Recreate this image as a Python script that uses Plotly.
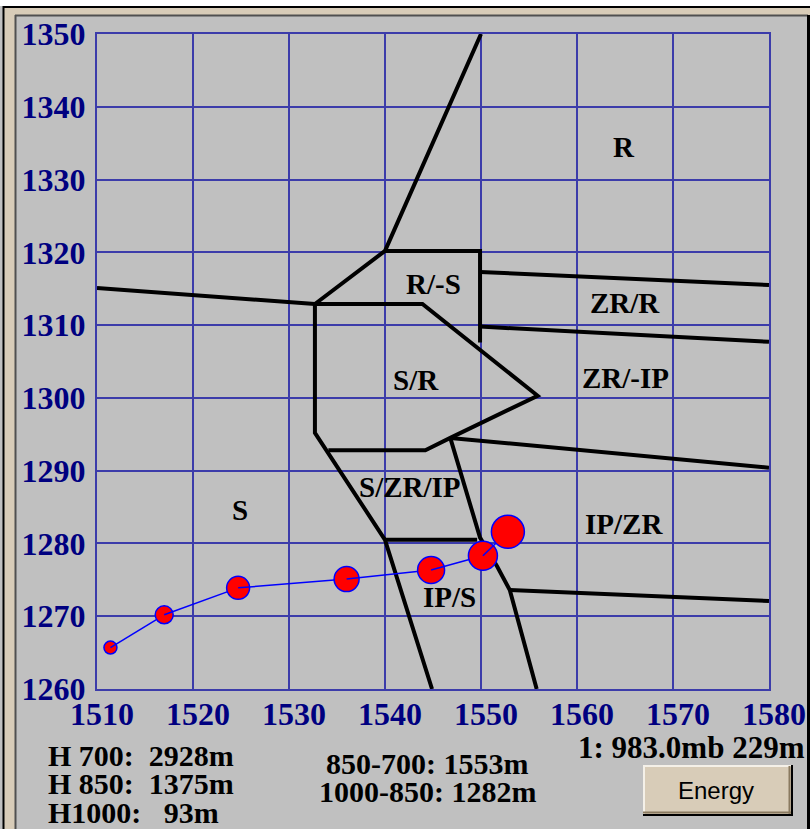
import plotly.graph_objects as go

W, H = 810, 829

# ---- data ----
path_x = [1511.4, 1517.0, 1524.7, 1536.0, 1544.8, 1550.2, 1552.8]
path_y = [1265.7, 1270.2, 1273.9, 1275.1, 1276.35, 1278.3, 1281.6]
marker_sizes = [13, 18, 23, 25, 27, 29, 33]

# boundary polylines (data coords)
b1_x = [1510, 1532.7, 1543.9, 1555.9, 1546.8, 1544.2, 1534.1]
b1_y = [1315.1, 1312.9, 1312.9, 1300.3, 1294.5, 1292.8, 1292.8]
b2_x = [1532.7, 1540.0, 1550.0]
b2_y = [1312.9, 1320.2, 1350.0]
b3_x = [1540.0, 1549.9, 1549.9]
b3_y = [1320.2, 1320.2, 1307.6]
b4_x = [1532.7, 1532.7, 1540.0, 1544.9]
b4_y = [1312.9, 1295.2, 1280.5, 1260.0]
b5_x = [1546.8, 1549.9, 1551.7, 1553.0, 1555.8]
b5_y = [1294.5, 1280.8, 1276.8, 1273.6, 1260.0]
b6_x = [1540.0, 1549.6]
b6_y = [1280.5, 1280.5]
b7_x = [1549.9, 1580]
b7_y = [1317.3, 1315.5]
b8_x = [1549.9, 1580]
b8_y = [1309.8, 1307.7]
b9_x = [1546.8, 1580]
b9_y = [1294.5, 1290.4]
b10_x = [1553.0, 1580]
b10_y = [1273.6, 1272.1]
boundaries = [(b1_x, b1_y), (b2_x, b2_y), (b3_x, b3_y), (b4_x, b4_y), (b5_x, b5_y),
              (b6_x, b6_y), (b7_x, b7_y), (b8_x, b8_y), (b9_x, b9_y), (b10_x, b10_y)]

region_labels = ["R", "R/-S", "ZR/R", "S/R", "ZR/-IP", "S", "S/ZR/IP", "IP/ZR", "IP/S"]
region_x = [1564.9, 1545.0, 1565.0, 1543.2, 1565.0, 1524.9, 1542.6, 1564.9, 1546.7]
region_y = [1334.5, 1315.7, 1313.0, 1302.5, 1302.7, 1284.6, 1287.8, 1282.7, 1272.7]

x_ticks = [1510, 1520, 1530, 1540, 1550, 1560, 1570, 1580]
y_ticks = [1260, 1270, 1280, 1290, 1300, 1310, 1320, 1330, 1340, 1350]

info_left = ["H 700:  2928m", "H 850:  1375m", "H1000:   93m"]
info_mid = ["850-700: 1553m", "1000-850: 1282m"]
info_right = "1: 983.0mb 229m"
button_text = "Energy"

# ---- styling ----
GRID = "#3c3caa"
NAVY = "#000080"
GRAY = "#c0c0c0"
TAN = "#d8ccb8"
SERIF = "Liberation Serif"


def px(x):
    return x / W


def py(y):
    return 1 - y / H


fig = go.Figure()

for bx, by in boundaries:
    fig.add_trace(go.Scatter(x=bx, y=by, mode="lines",
                             line=dict(color="black", width=4),
                             hoverinfo="skip", showlegend=False))

for i in range(len(path_x)):
    fig.add_trace(go.Scatter(x=[path_x[i]], y=[path_y[i]], mode="markers",
                             marker=dict(size=marker_sizes[i], color="#ff0000",
                                         line=dict(color="#0000ff", width=1.5)),
                             showlegend=False))
    if i + 1 < len(path_x):
        fig.add_trace(go.Scatter(x=path_x[i:i + 2], y=path_y[i:i + 2], mode="lines",
                                 line=dict(color="#0000ff", width=1.5),
                                 showlegend=False))

for t, x, y in zip(region_labels, region_x, region_y):
    fig.add_annotation(x=x, y=y, text=t, showarrow=False,
                       font=dict(family=SERIF, size=29, color="black", weight="bold"))

shapes = []
# frame
shapes.append(dict(type="rect", xref="paper", yref="paper", x0=0, x1=1, y0=py(6), y1=1,
                   fillcolor="white", line=dict(width=0), layer="below"))
shapes.append(dict(type="rect", xref="paper", yref="paper", x0=px(4), x1=1, y0=py(15), y1=py(7),
                   fillcolor=TAN, line=dict(width=0), layer="below"))
shapes.append(dict(type="rect", xref="paper", yref="paper", x0=px(4), x1=px(15), y0=0, y1=py(7),
                   fillcolor=TAN, line=dict(width=0), layer="below"))
shapes.append(dict(type="line", xref="paper", yref="paper", x0=px(3), x1=1, y0=py(7), y1=py(7),
                   line=dict(color="black", width=2), layer="below"))
shapes.append(dict(type="line", xref="paper", yref="paper", x0=px(3.5), x1=px(3.5), y0=0, y1=py(6),
                   line=dict(color="black", width=2), layer="below"))
shapes.append(dict(type="line", xref="paper", yref="paper", x0=px(15), x1=px(808), y0=py(15.5), y1=py(15.5),
                   line=dict(color="#505050", width=2), layer="below"))
shapes.append(dict(type="line", xref="paper", yref="paper", x0=px(15.5), x1=px(15.5), y0=0, y1=py(15),
                   line=dict(color="#505050", width=2), layer="below"))
shapes.append(dict(type="line", xref="paper", yref="paper", x0=px(808.5), x1=px(808.5), y0=0, y1=py(15),
                   line=dict(color="black", width=3), layer="below"))
# button
shapes.append(dict(type="rect", xref="paper", yref="paper", x0=px(643), x1=px(792), y0=py(815), y1=py(765),
                   fillcolor=TAN, line=dict(width=0)))
shapes.append(dict(type="line", xref="paper", yref="paper", x0=px(643), x1=px(792), y0=py(766), y1=py(766),
                   line=dict(color="#f4f0e8", width=2)))
shapes.append(dict(type="line", xref="paper", yref="paper", x0=px(644), x1=px(644), y0=py(815), y1=py(765),
                   line=dict(color="#f4f0e8", width=2)))
shapes.append(dict(type="line", xref="paper", yref="paper", x0=px(643), x1=px(792), y0=py(812.5), y1=py(812.5),
                   line=dict(color="#8a7a60", width=2)))
shapes.append(dict(type="line", xref="paper", yref="paper", x0=px(789.5), x1=px(789.5), y0=py(815), y1=py(766),
                   line=dict(color="#8a7a60", width=2)))
shapes.append(dict(type="line", xref="paper", yref="paper", x0=px(643), x1=px(793), y0=py(815), y1=py(815),
                   line=dict(color="black", width=2)))
shapes.append(dict(type="line", xref="paper", yref="paper", x0=px(792), x1=px(792), y0=py(816), y1=py(765),
                   line=dict(color="black", width=2)))

for i, t in enumerate(info_left):
    fig.add_annotation(xref="paper", yref="paper", x=px(46), y=py(755 + 28.5 * i), text=t,
                       showarrow=False, xanchor="left", yanchor="middle",
                       font=dict(family=SERIF, size=30, color="black", weight="bold"))
for i, t in enumerate(info_mid):
    fig.add_annotation(xref="paper", yref="paper", x=px(427), y=py(763 + 28 * i), text=t,
                       showarrow=False, xanchor="center", yanchor="middle",
                       font=dict(family=SERIF, size=30, color="black", weight="bold"))
fig.add_annotation(xref="paper", yref="paper", x=px(576), y=py(747), text=info_right,
                   showarrow=False, xanchor="left", yanchor="middle",
                   font=dict(family=SERIF, size=31, color="black", weight="bold"))
fig.add_annotation(xref="paper", yref="paper", x=px(716), y=py(790), text=button_text,
                   showarrow=False, xanchor="center", yanchor="middle",
                   font=dict(family="Liberation Sans", size=24, color="black"))

axis_common = dict(showgrid=True, gridcolor=GRID, gridwidth=2, zeroline=False,
                   showline=True, linecolor=GRID, linewidth=2, mirror=True,
                   ticks="", automargin=False,
                   tickfont=dict(family=SERIF, size=32, color=NAVY, weight="bold"),
                   fixedrange=True)

fig.update_layout(
    width=W, height=H, autosize=False,
    margin=dict(l=0, r=0, t=0, b=0, pad=0),
    paper_bgcolor=GRAY, plot_bgcolor=GRAY,
    shapes=shapes,
    xaxis=dict(range=[1510, 1580], domain=[px(97), px(769)], tickvals=x_ticks,
               ticktext=[str(v) for v in x_ticks], ticklabelshift=5, ticklabelstandoff=-4,
               **axis_common),
    yaxis=dict(range=[1260, 1350], domain=[py(689), py(34)], tickvals=y_ticks,
               ticktext=[str(v) for v in y_ticks], ticklabelstandoff=3, **axis_common),
    showlegend=False,
)

fig.write_html("out.html", config={"displayModeBar": False},
               post_script="document.body.style.margin='0';document.body.style.overflow='hidden';")
